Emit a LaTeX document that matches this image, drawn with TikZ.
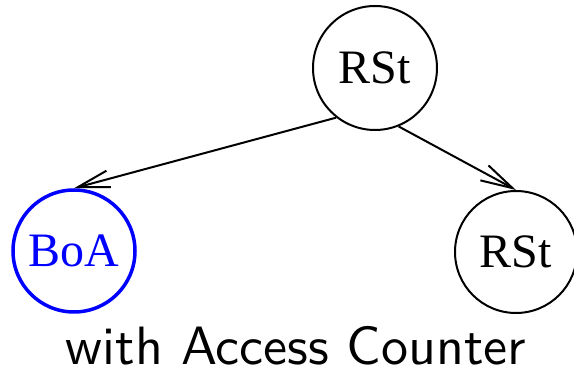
\documentclass[tikz,border=0pt]{standalone}
\usepackage{fontspec}
\setmainfont{Liberation Serif}
\newfontfamily\capfont{lmsans10-regular.otf}
\usetikzlibrary{arrows.meta}

\begin{document}
\begin{tikzpicture}[
      x=0.5pt, y=0.5pt,
      state/.style={circle, draw, line width=1pt, minimum size=61pt, inner sep=0pt, font=\fontsize{24}{28}\selectfont},
      boa/.style={state, draw=blue, text=blue, line width=1.75pt},
      arr/.style={-{Straight Barb[length=16pt, width=8.5pt, line width=1pt]}, line width=1pt},
    ]
    \useasboundingbox (0,0) rectangle (574,375);
    \node[state, minimum size=62pt] (top) at (375,307) {RSt};
    \node[boa] (left) at (74,124) {BoA};
    \node[state] (right) at (516,123) {RSt};
    \node[font=\capfont\fontsize{27}{30}\selectfont, anchor=base] (caption) at (296,10) {with Access Counter};
    \draw[arr] (top.232) -- (left.north);
    \draw[arr] (top.292) -- (right.north);
  \end{tikzpicture}
\end{document}
